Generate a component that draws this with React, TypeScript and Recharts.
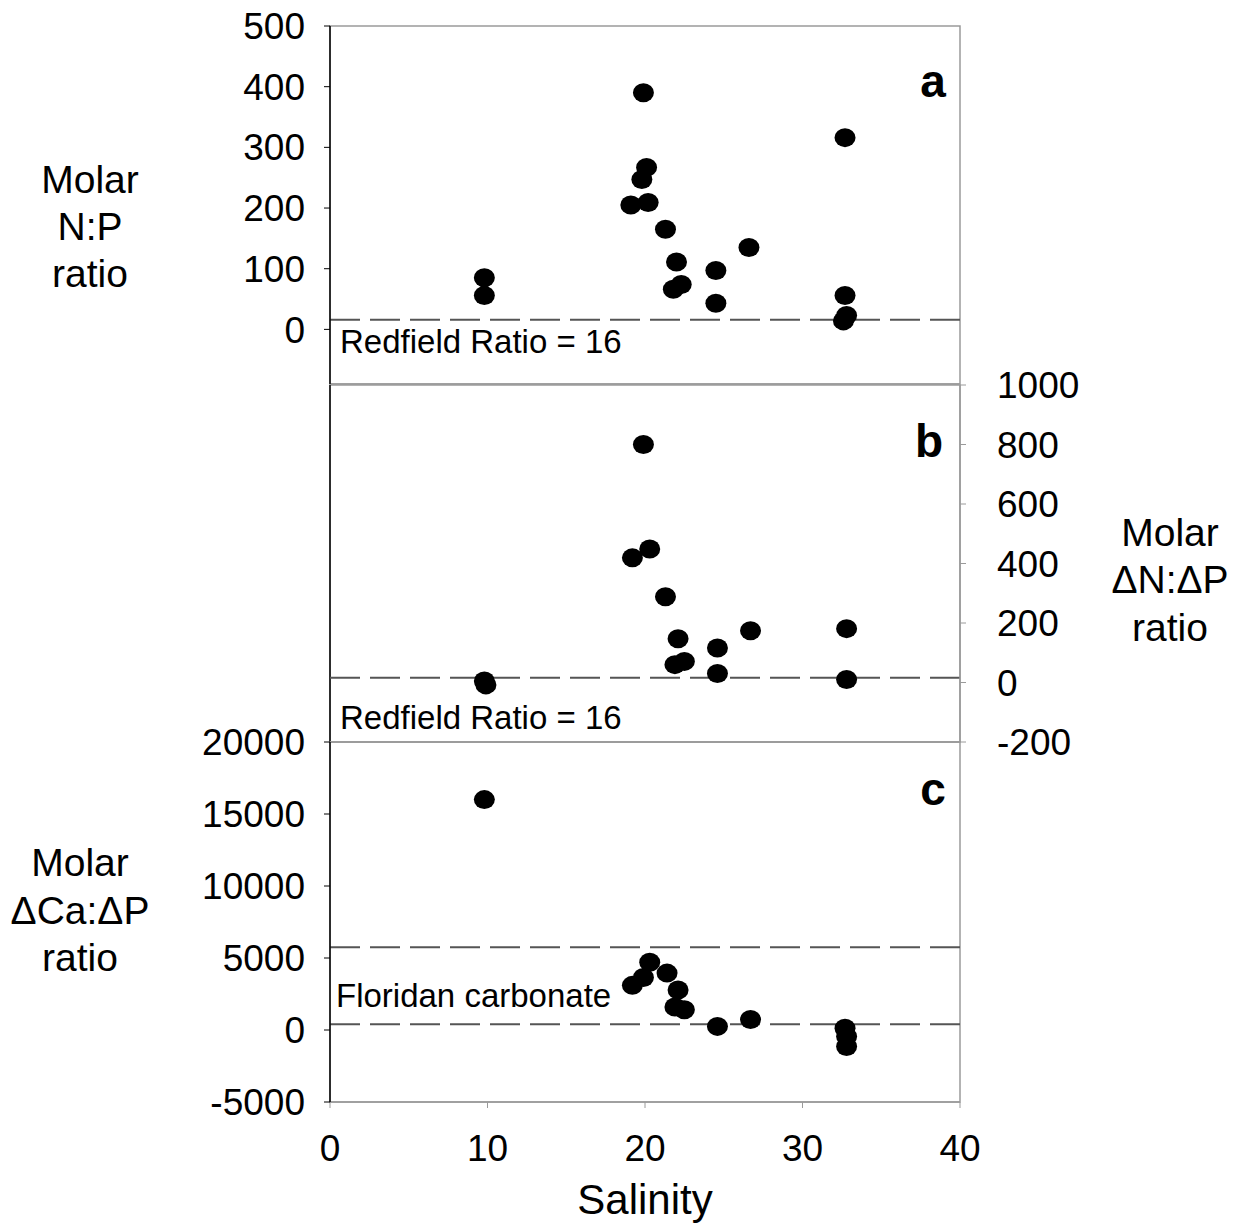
import React from 'react';
import { ScatterChart, Scatter, XAxis, YAxis, ReferenceLine, ReferenceArea } from 'recharts';

// Panel a: molar N:P ratio vs salinity
const salinityA = [9.8, 9.8, 19.9, 20.1, 19.8, 19.1, 20.2, 21.3, 22.0, 22.3, 21.8, 24.5, 24.5, 26.6, 32.7, 32.7, 32.8, 32.6];
const npRatioA = [85, 56, 390, 267, 247, 205, 209, 165, 111, 74, 66, 97, 43, 135, 316, 56, 23, 14];

// Panel b: molar ΔN:ΔP ratio vs salinity
const salinityB = [9.8, 9.9, 19.9, 19.2, 20.3, 21.3, 22.1, 22.5, 21.9, 24.6, 24.6, 26.7, 32.8, 32.8];
const dnpRatioB = [5, -8, 800, 419, 449, 288, 147, 71, 60, 116, 30, 174, 181, 10];

// Panel c: molar ΔCa:ΔP ratio vs salinity
const salinityC = [9.8, 19.2, 19.9, 20.3, 21.4, 22.1, 21.9, 22.5, 24.6, 26.7, 32.7, 32.8, 32.8];
const dcapRatioC = [16000, 3100, 3650, 4700, 3950, 2780, 1600, 1400, 250, 730, 120, -450, -1150];

const xTicks = [0, 10, 20, 30, 40];
const yTicksA = [0, 100, 200, 300, 400, 500];
const yTicksB = [-200, 0, 200, 400, 600, 800, 1000];
const yTicksC = [-5000, 0, 5000, 10000, 15000, 20000];

const redfield = 16;
const floridanLow = 400;
const floridanHigh = 5750;

const toPoints = (xs: number[], ys: number[]) => xs.map((x, i) => ({ x, y: ys[i] }));
const dataA = toPoints(salinityA, npRatioA);
const dataB = toPoints(salinityB, dnpRatioB);
const dataC = toPoints(salinityC, dcapRatioC);

const FONT = '"Liberation Sans", Arial, sans-serif';
const GRAY = '#9a9a9a';
const DASH = '#555555';

const Dot = (p: any) => <ellipse cx={p.cx} cy={p.cy} rx={10.5} ry={9.5} fill="#000" />;

const tickStyle = { fontSize: 37, fill: '#000', fontFamily: FONT };

export default function App() {
  return (
    <div style={{ position: 'absolute', left: 0, top: 0, width: 1239, height: 1224, background: '#fff' }}>
      {/* Panel a */}
      <div style={{ position: 'absolute', left: 0, top: 0 }}>
        <ScatterChart width={1239} height={400} margin={{ top: 26, right: 279, bottom: 6, left: 250 }}>
          <ReferenceArea x1={0} x2={40} y1={-90} y2={500} fill="none" stroke={GRAY} strokeWidth={1.5} ifOverflow="visible" />
          <XAxis type="number" dataKey="x" domain={[0, 40]} ticks={xTicks} tick={false} height={10} tickSize={6}
            axisLine={{ stroke: GRAY, strokeWidth: 1.5 }} tickLine={{ stroke: GRAY }} allowDataOverflow />
          <YAxis type="number" dataKey="y" domain={[-90, 500]} ticks={yTicksA} width={80} tickSize={6} tickMargin={19}
            tick={tickStyle} axisLine={{ stroke: '#000', strokeWidth: 1.5 }} tickLine={{ stroke: '#000' }} allowDataOverflow interval={0} />
          <ReferenceLine y={redfield} stroke={DASH} strokeWidth={2} strokeDasharray="30 10" />
          <Scatter data={dataA} fill="#000" shape={Dot} isAnimationActive={false} />
        </ScatterChart>
      </div>

      {/* Panel b */}
      <div style={{ position: 'absolute', left: 0, top: 350 }}>
        <ScatterChart width={1239} height={420} margin={{ top: 35, right: 129, bottom: 18, left: 330 }}>
          <ReferenceArea x1={0} x2={40} y1={-200} y2={1000} fill="none" stroke={GRAY} strokeWidth={1.5} ifOverflow="visible" />
          <XAxis type="number" dataKey="x" domain={[0, 40]} ticks={xTicks} tick={false} height={10} tickSize={6}
            axisLine={{ stroke: GRAY, strokeWidth: 1.5 }} tickLine={{ stroke: GRAY }} allowDataOverflow />
          <YAxis type="number" dataKey="y" orientation="right" domain={[-200, 1000]} ticks={yTicksB} width={150} tickSize={6} tickMargin={31}
            tick={tickStyle} axisLine={{ stroke: GRAY, strokeWidth: 1.5 }} tickLine={{ stroke: GRAY }} allowDataOverflow interval={0} />
          <ReferenceLine x={0} stroke="#000" strokeWidth={1.5} />
          <ReferenceLine y={redfield} stroke={DASH} strokeWidth={2} strokeDasharray="30 10" />
          <Scatter data={dataB} fill="#000" shape={Dot} isAnimationActive={false} />
        </ScatterChart>
      </div>

      {/* Panel c */}
      <div style={{ position: 'absolute', left: 0, top: 700 }}>
        <ScatterChart width={1239} height={524} margin={{ top: 42, right: 279, bottom: 64, left: 250 }}>
          <ReferenceArea x1={0} x2={40} y1={-5000} y2={20000} fill="none" stroke={GRAY} strokeWidth={1.5} ifOverflow="visible" />
          <XAxis type="number" dataKey="x" domain={[0, 40]} ticks={xTicks} height={58} tickSize={6} tickMargin={27}
            tick={tickStyle} axisLine={{ stroke: GRAY, strokeWidth: 1.5 }} tickLine={{ stroke: GRAY }} allowDataOverflow interval={0} />
          <YAxis type="number" dataKey="y" domain={[-5000, 20000]} ticks={yTicksC} width={80} tickSize={6} tickMargin={19}
            tick={tickStyle} axisLine={{ stroke: '#000', strokeWidth: 1.5 }} tickLine={{ stroke: '#000' }} allowDataOverflow interval={0} />
          <ReferenceLine y={floridanHigh} stroke={DASH} strokeWidth={2} strokeDasharray="30 10" />
          <ReferenceLine y={floridanLow} stroke={DASH} strokeWidth={2} strokeDasharray="30 10" />
          <Scatter data={dataC} fill="#000" shape={Dot} isAnimationActive={false} />
        </ScatterChart>
      </div>

      {/* Text overlay */}
      <svg width={1239} height={1224} style={{ position: 'absolute', left: 0, top: 0, pointerEvents: 'none' }}
        fontFamily={FONT} fill="#000">
        <g fontSize={39} textAnchor="middle">
          <text x={90} y={193}>Molar</text>
          <text x={90} y={240}>N:P</text>
          <text x={90} y={287}>ratio</text>
          <text x={1170} y={546}>Molar</text>
          <text x={1170} y={593}>ΔN:ΔP</text>
          <text x={1170} y={641}>ratio</text>
          <text x={80} y={876}>Molar</text>
          <text x={80} y={924}>ΔCa:ΔP</text>
          <text x={80} y={971}>ratio</text>
        </g>
        <g fontSize={46} fontWeight="bold" textAnchor="middle">
          <text x={933} y={97}>a</text>
          <text x={929} y={457}>b</text>
          <text x={933} y={805}>c</text>
        </g>
        <g fontSize={33}>
          <text x={340} y={353}>Redfield Ratio = 16</text>
          <text x={340} y={729}>Redfield Ratio = 16</text>
          <text x={336} y={1007}>Floridan carbonate</text>
        </g>
        <text x={645} y={1214} fontSize={42} textAnchor="middle">Salinity</text>
      </svg>
    </div>
  );
}
